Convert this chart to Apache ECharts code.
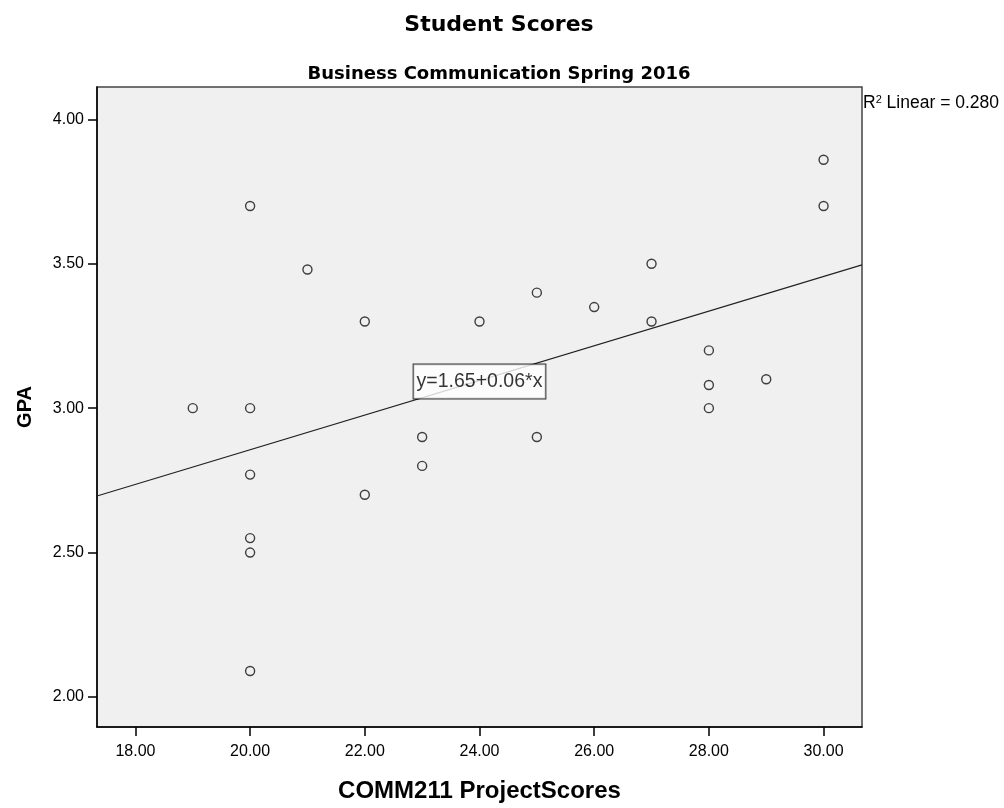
<!DOCTYPE html>
<html>
<head>
<meta charset="utf-8">
<script src="https://cdn.jsdelivr.net/npm/echarts@6/dist/echarts.min.js"></script>
<style>
html,body{margin:0;padding:0;background:#fff;}
#chart{width:1004px;height:808px;}
</style>
</head>
<body>
<div id="chart"></div>
<script>
// Data
const projectScores = [19, 20, 20, 20, 20, 20, 20, 21, 22, 22, 23, 23, 24, 25, 25, 26, 27, 27, 28, 28, 28, 29, 30, 30];
const gpaValues     = [3.00, 3.70, 3.00, 2.77, 2.55, 2.50, 2.09, 3.48, 3.30, 2.70, 2.90, 2.80, 3.30, 3.40, 2.90, 3.35, 3.50, 3.30, 3.20, 3.08, 3.00, 3.10, 3.86, 3.70];
const xTicks = [18, 20, 22, 24, 26, 28, 30];
const yTicks = [2.0, 2.5, 3.0, 3.5, 4.0];
const xRange = [17.33, 30.67];
const yRange = [1.896, 4.112];
const fitIntercept = 1.656;
const fitSlope = 0.0600;
const equationText = 'y=1.65+0.06*x';
const equationAnchor = [24.0, 3.092];
const rSquaredText = '0.280';

const points = projectScores.map((x, i) => [x, gpaValues[i]]);
const fitLine = xRange.map(x => [x, fitIntercept + fitSlope * x]);

const FONT = "'Liberation Sans', Arial, sans-serif";
const WIDE = "'DejaVu Sans', 'Liberation Sans', sans-serif";
const chart = echarts.init(document.getElementById('chart'), null, {renderer: 'canvas'});
chart.setOption({
  animation: false,
  backgroundColor: '#ffffff',
  title: [
    {text: 'Student Scores', left: 494, top: 9, textAlign: 'center',
     textStyle: {fontFamily: WIDE, fontWeight: 'bold', fontSize: 22, color: '#000'}},
    {text: 'Business Communication Spring 2016', left: 494, top: 60, textAlign: 'center',
     textStyle: {fontFamily: WIDE, fontWeight: 'bold', fontSize: 18, color: '#000'}}
  ],
  grid: {left: 97, top: 87, width: 765, height: 640, show: true,
         backgroundColor: '#f0f0f0', borderColor: '#444', borderWidth: 1.5, containLabel: false},
  xAxis: {
    type: 'value', min: xRange[0], max: xRange[1],
    name: 'COMM211 ProjectScores', nameLocation: 'middle', nameGap: 52,
    nameTextStyle: {fontFamily: FONT, fontWeight: 'bold', fontSize: 24, color: '#000'},
    axisLine: {show: true, onZero: false, lineStyle: {color: '#000', width: 1.5}},
    axisTick: {show: true, length: 9, customValues: xTicks, lineStyle: {color: '#000', width: 1.5}},
    axisLabel: {customValues: xTicks, margin: 17, fontFamily: FONT, fontSize: 16, color: '#000',
                formatter: v => v.toFixed(2)},
    splitLine: {show: false}
  },
  yAxis: {
    type: 'value', min: yRange[0], max: yRange[1],
    name: 'GPA', nameLocation: 'middle', nameGap: 62, nameRotate: 90,
    nameTextStyle: {fontFamily: FONT, fontWeight: 'bold', fontSize: 20, color: '#000'},
    axisLine: {show: true, onZero: false, lineStyle: {color: '#000', width: 1.5}},
    axisTick: {show: true, length: 9, customValues: yTicks, lineStyle: {color: '#000', width: 1.5}},
    axisLabel: {customValues: yTicks, margin: 13, fontFamily: FONT, fontSize: 16, color: '#000',
                formatter: v => v.toFixed(2)},
    splitLine: {show: false}
  },
  graphic: [
    {type: 'text', left: 863, top: 94,
     style: {text: '{r|R}{s|2}{t| Linear = ' + rSquaredText + '}',
       rich: {r: {fontFamily: FONT, fontSize: 17.5, color: '#000', verticalAlign: 'bottom'},
              s: {fontFamily: FONT, fontSize: 11, color: '#000', verticalAlign: 'top', padding: [0, 0, 7, 0]},
              t: {fontFamily: FONT, fontSize: 17.5, color: '#000'}}}}
  ],
  series: [
    {type: 'line', data: fitLine, symbol: 'none', silent: true, z: 2,
     lineStyle: {color: '#222', width: 1.2}},
    {type: 'scatter', data: points, symbol: 'circle', symbolSize: 9, z: 3,
     itemStyle: {color: 'rgba(0,0,0,0)', borderColor: '#111', borderWidth: 1.4}},
    {type: 'scatter', data: [equationAnchor], symbolSize: 0, z: 4,
     label: {show: true, position: 'inside', formatter: equationText,
       fontFamily: FONT, fontSize: 19.5, color: '#000', backgroundColor: '#fff',
       borderColor: '#000', borderWidth: 1, padding: [7, 3, 7, 3]}}
  ]
});
</script>
</body>
</html>
